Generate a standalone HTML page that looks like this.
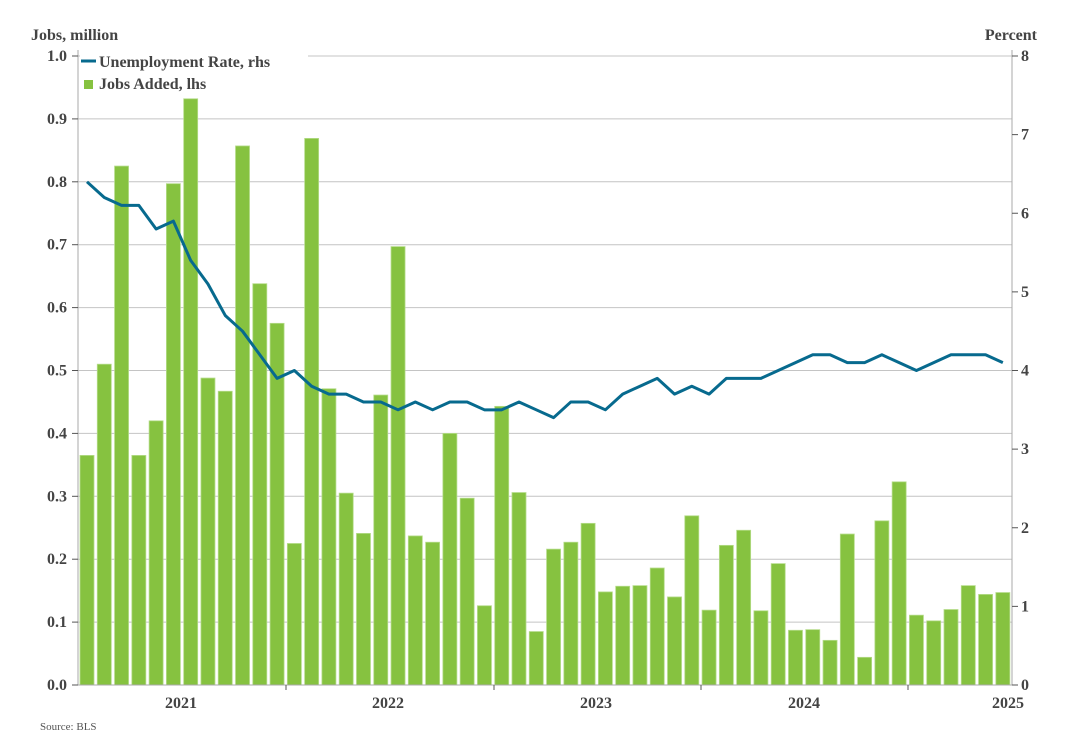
<!DOCTYPE html>
<html><head><meta charset="utf-8"><style>
body{margin:0;background:#fff}
svg{display:block;font-family:"Liberation Serif",serif}
</style></head><body>
<svg id="s" width="1089" height="734" xmlns="http://www.w3.org/2000/svg"></svg>
<script>
const bars=[0.365,0.51,0.825,0.365,0.42,0.797,0.932,0.488,0.467,0.857,0.638,0.575,0.225,0.869,0.471,0.305,0.241,0.461,0.697,0.237,0.227,0.400,0.297,0.126,0.443,0.306,0.085,0.216,0.227,0.257,0.148,0.157,0.158,0.186,0.140,0.269,0.119,0.222,0.246,0.118,0.193,0.087,0.088,0.071,0.240,0.044,0.261,0.323,0.111,0.102,0.120,0.158,0.144,0.147];
const ur=[6.4,6.2,6.1,6.1,5.8,5.9,5.4,5.1,4.7,4.5,4.2,3.9,4.0,3.8,3.7,3.7,3.6,3.6,3.5,3.6,3.5,3.6,3.6,3.5,3.5,3.6,3.5,3.4,3.6,3.6,3.5,3.7,3.8,3.9,3.7,3.8,3.7,3.9,3.9,3.9,4.0,4.1,4.2,4.2,4.1,4.1,4.2,4.1,4.0,4.1,4.2,4.2,4.2,4.1];
const y0=685,H=629,L=78,R=1012;
let h='';
for(let i=1;i<=10;i++){const y=y0-i*H/10;h+=`<line x1="${L}" x2="${R}" y1="${y}" y2="${y}" stroke="#c4c4c4" stroke-width="1"/>`;}
bars.forEach((v,i)=>{const c=87+17.28*i,bh=v*H;h+=`<rect x="${c-7}" y="${y0-bh}" width="14" height="${bh}" fill="#86c240" stroke="#b5dc8a" stroke-width="0.8"/>`;});
h+=`<rect x="80" y="44" width="228" height="52" fill="#fff"/>`;
let p=ur.map((v,i)=>`${87+17.28*i},${y0-v*H/8}`).join(' ');
h+=`<polyline points="${p}" fill="none" stroke="#076a8e" stroke-width="3" stroke-linejoin="round"/>`;
h+=`<line x1="${L}" x2="${L}" y1="50" y2="${y0}" stroke="#aaa"/><line x1="${R}" x2="${R}" y1="50" y2="${y0}" stroke="#aaa"/><line x1="${L}" x2="${R}" y1="${y0}" y2="${y0}" stroke="#aaa"/>`;
for(let i=0;i<=10;i++){const y=y0-i*H/10;h+=`<line x1="${L-6}" x2="${L}" y1="${y}" y2="${y}" stroke="#555"/><text x="67" y="${y+5}" text-anchor="end" font-size="16" font-weight="bold" fill="#444">${(i/10).toFixed(1)}</text>`;}
for(let i=0;i<=8;i++){const y=y0-i*H/8;h+=`<line x1="${R}" x2="${R+6}" y1="${y}" y2="${y}" stroke="#555"/><text x="1021" y="${y+5}" font-size="16" font-weight="bold" fill="#444">${i}</text>`;}
[286,494,701,908].forEach(x=>h+=`<line x1="${x}" x2="${x}" y1="${y0}" y2="${y0+5}" stroke="#555"/>`);
[[181,'2021'],[388,'2022'],[596,'2023'],[804,'2024'],[1008,'2025']].forEach(([x,t])=>h+=`<text x="${x}" y="708" text-anchor="middle" font-size="16" font-weight="bold" fill="#444">${t}</text>`);
h+=`<text x="31" y="40" font-size="16" font-weight="bold" fill="#444">Jobs, million</text>`;
h+=`<text x="1037" y="40" text-anchor="end" font-size="16" font-weight="bold" fill="#444">Percent</text>`;
h+=`<line x1="81" x2="96" y1="61" y2="61" stroke="#076a8e" stroke-width="3"/><text x="99" y="67" font-size="16" font-weight="bold" fill="#444">Unemployment Rate, rhs</text>`;
h+=`<rect x="84" y="80" width="9" height="9" fill="#86c240"/><text x="99" y="89" font-size="16" font-weight="bold" fill="#444">Jobs Added, lhs</text>`;
h+=`<text x="40" y="730" font-size="11" fill="#555">Source: BLS</text>`;
document.getElementById('s').innerHTML=h;
</script>
</body></html>
